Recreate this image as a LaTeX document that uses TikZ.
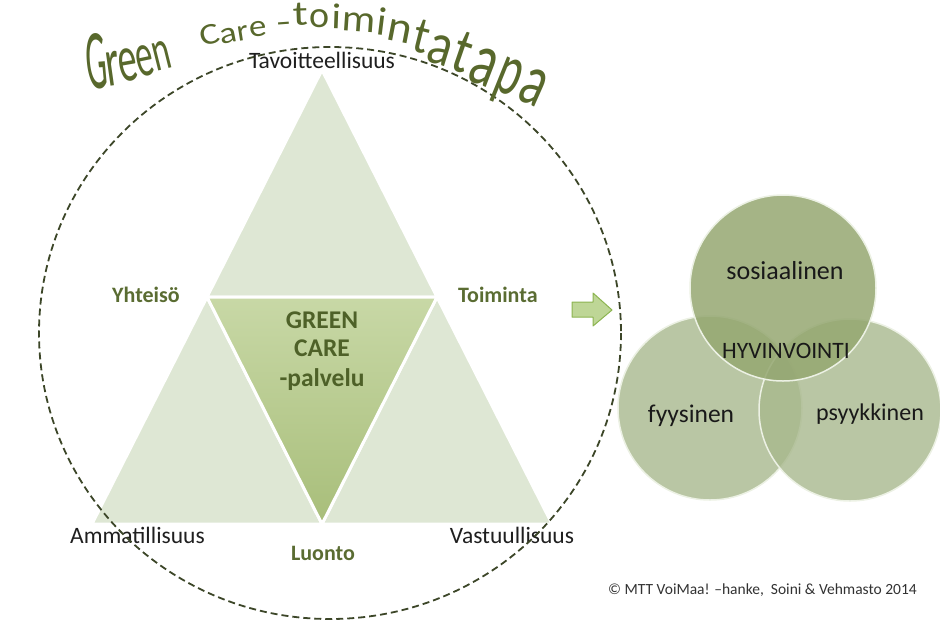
\documentclass[tikz,border=0pt]{standalone}
\usepackage{fontspec}
\setmainfont{Carlito}
\usepackage{graphicx}
\definecolor{titlegreen}{RGB}{88,104,44}
\definecolor{labelgreen}{RGB}{90,108,50}
\definecolor{centertext}{RGB}{78,97,40}
\definecolor{trifill}{RGB}{222,231,212}
\definecolor{ctop}{RGB}{200,216,166}
\definecolor{cbot}{RGB}{168,190,122}
\definecolor{dashc}{RGB}{60,70,40}
\definecolor{arrowfill}{RGB}{190,214,150}
\definecolor{arrowdraw}{RGB}{140,180,80}
\definecolor{botcirc}{RGB}{168,184,141}
\definecolor{topcirc}{RGB}{149,167,113}
\definecolor{circedge}{RGB}{236,241,228}
\definecolor{copyc}{RGB}{50,50,50}
\newcommand\wachar[7]{\node[anchor=base west,inner sep=0pt,rotate=#4,text=titlegreen,font=\fontsize{10}{12}\selectfont] (#1) at (#2,#3) {\scalebox{#5}[#6]{#7}};}
\begin{document}
\begin{tikzpicture}[x=1pt,y=-1pt,
  tri/.style={fill=trifill,draw=white,line width=3pt,line join=round},
  ctri/.style={top color=ctop,bottom color=cbot,draw=white,line width=3pt,line join=round},
  blk/.style={text=black!88,font=\fontsize{23.5}{28}\selectfont,inner sep=0pt},
  grn/.style={text=labelgreen,font=\bfseries\fontsize{22}{26}\selectfont,inner sep=0pt},
  ctr/.style={text=centertext,font=\bfseries\fontsize{25.5}{30}\selectfont,inner sep=0pt,anchor=base},
  circlbl/.style={text=black!90,inner sep=0pt,anchor=base},
  dashcirc/.style={draw=dashc,line width=1.8pt,dash pattern=on 7pt off 4pt}]
\useasboundingbox (0,0) rectangle (940,622);
% triangle
\coordinate (A) at (322,70);
\coordinate (BL) at (92,524);
\coordinate (BR) at (552,524);
\coordinate (ML) at (207,297);
\coordinate (MR) at (437,297);
\coordinate (MB) at (322,524);
\path[tri] (A) -- (MR) -- (ML) -- cycle;
\path[tri] (ML) -- (MB) -- (BL) -- cycle;
\path[tri] (MR) -- (BR) -- (MB) -- cycle;
\path[ctri] (ML) -- (MR) -- (MB) -- cycle;
% triangle labels
\node[blk,anchor=base] (tav) at (322,68) {Tavoitteellisuus};
\node[blk,anchor=base west] (amm) at (70,543) {Ammatillisuus};
\node[blk,anchor=base] (vas) at (512,543) {Vastuullisuus};
\node[grn,anchor=base] (luo) at (323,560) {Luonto};
\node[grn,anchor=base west] (yht) at (112,302) {Yhteisö};
\node[grn,anchor=base west] (toi) at (458,302) {Toiminta};
\node[ctr] (gr) at (322,328) {GREEN};
\node[ctr] (ca) at (322,356) {CARE};
\node[ctr] (pa) at (322,386) {-palvelu};
% arrow
\path[fill=arrowfill,draw=arrowdraw,line width=1pt,line join=round]
  (572,302) -- (593,302) -- (593,293) -- (612,310) -- (593,326) -- (593,317) -- (572,317) -- cycle;
% circles
\path[fill=botcirc,fill opacity=0.8,draw=circedge,line width=1.5pt] (710,408) circle[radius=92];
\path[fill=botcirc,fill opacity=0.8,draw=circedge,line width=1.5pt] (850,410) circle[radius=91];
\path[fill=topcirc,fill opacity=0.85,draw=circedge,line width=1.5pt] (783,288) circle[radius=93];
\node[circlbl,font=\fontsize{26}{30}\selectfont] (sos) at (785,279) {sosiaalinen};
\node[circlbl,font=\fontsize{23.5}{28}\selectfont] (hyv) at (786,358) {HYVINVOINTI};
\node[circlbl,font=\fontsize{25.5}{30}\selectfont] (fyy) at (691,422) {fyysinen};
\node[circlbl,font=\fontsize{24}{28}\selectfont] (psy) at (870,420) {psyykkinen};
% copyright
\node[anchor=base west,inner sep=0pt,text=copyc,font=\fontsize{15.5}{18}\selectfont] (copy) at (608,594) {© MTT VoiMaa! –hanke,\ \ Soini \& Vehmasto 2014};
% dashed circle
\path[dashcirc] (330,333) ellipse[x radius=291,y radius=286];
% curved title
\wachar{c1}{88}{90}{5}{3.3}{8.5}{G}
\wachar{c2}{108}{87}{8}{4.0}{7.0}{r}
\wachar{c3}{121}{83}{10}{3.8}{6.7}{e}
\wachar{c4}{139}{78}{12}{3.5}{6.3}{e}
\wachar{c5}{156}{72}{14}{3.4}{5.8}{n}
\wachar{c6}{202}{47}{14}{3.7}{3.0}{C}
\wachar{c7}{221}{45}{11}{3.6}{3.0}{a}
\wachar{c8}{238}{42}{9}{3.3}{3.0}{r}
\wachar{c9}{250}{38}{7}{3.5}{3.1}{e}
\wachar{c10}{277}{33}{4}{4.6}{3.0}{-}
\wachar{c11}{293}{26}{2}{4.5}{3.5}{t}
\wachar{c12}{309}{27}{0}{3.8}{3.7}{o}
\wachar{c13}{331}{28}{-2}{4.2}{3.6}{i}
\wachar{c14}{341}{30}{-4}{4.2}{3.8}{m}
\wachar{c15}{375}{34}{-7}{4.3}{4.0}{i}
\wachar{c16}{385}{39}{-11}{4.7}{4.4}{n}
\wachar{c17}{410}{50}{-14}{4.6}{5.2}{t}
\wachar{c18}{424}{60}{-17}{5.0}{6.0}{a}
\wachar{c19}{448}{68}{-19}{5.1}{6.4}{t}
\wachar{c20}{465}{79}{-21}{5.3}{7.6}{a}
\wachar{c21}{491}{88}{-22}{4.6}{7.4}{p}
\wachar{c22}{515}{98}{-24}{5.0}{7.4}{a}
\end{tikzpicture}
\end{document}
